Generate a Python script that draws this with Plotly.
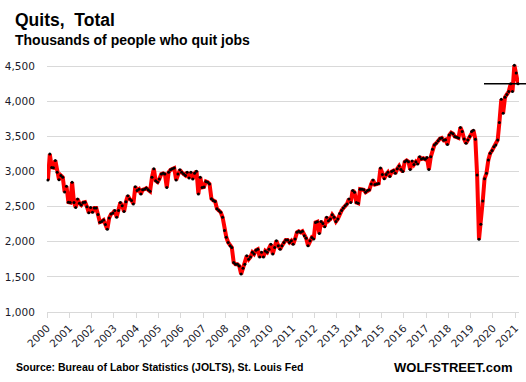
import plotly.graph_objects as go
import pandas as pd

# Monthly quits, thousands (JOLTS), Dec 2000 .. Jan 2022
q2000 = [2880]
q2001 = [3250, 3060, 3055, 3160, 2990, 2885, 2945, 2920, 2710, 2790, 2565, 2560]
q2002 = [2850, 2560, 2490, 2610, 2550, 2525, 2560, 2565, 2500, 2415, 2490, 2420]
q2003 = [2480, 2480, 2390, 2280, 2290, 2310, 2245, 2180, 2340, 2395, 2410, 2445]
q2004 = [2350, 2445, 2560, 2515, 2430, 2570, 2655, 2610, 2590, 2540, 2785, 2730]
q2005 = [2750, 2680, 2740, 2750, 2765, 2740, 2720, 2920, 3040, 2870, 2850, 2895]
q2006 = [2965, 2975, 2965, 2775, 2990, 3025, 3040, 3050, 2880, 2965, 3025, 2990]
q2007 = [2965, 2945, 2990, 2910, 2990, 2895, 2975, 3005, 2680, 2920, 2775, 2780]
q2008 = [2860, 2850, 2825, 2615, 2590, 2575, 2470, 2445, 2420, 2350, 2160, 2065]
q2009 = [1990, 1945, 1920, 1705, 1680, 1680, 1655, 1540, 1625, 1680, 1800, 1750]
q2010 = [1785, 1850, 1825, 1880, 1895, 1785, 1850, 1785, 1870, 1850, 1895, 1965]
q2011 = [1825, 1920, 2015, 1945, 1895, 1945, 1990, 2025, 2025, 1990, 2015, 1965]
q2012 = [2040, 2135, 2150, 2135, 2150, 2085, 2050, 1945, 2015, 2060, 2040, 2275]
q2013 = [2285, 2120, 2290, 2260, 2215, 2350, 2300, 2325, 2385, 2350, 2290, 2325]
q2014 = [2405, 2445, 2480, 2515, 2540, 2610, 2560, 2730, 2705, 2560, 2550, 2750]
q2015 = [2750, 2740, 2705, 2730, 2740, 2825, 2880, 2815, 2825, 2830, 3050, 2960]
q2016 = [2900, 2960, 2990, 2930, 3000, 3015, 2975, 3040, 3080, 3030, 3000, 3140]
q2017 = [3160, 3140, 3030, 3150, 3100, 3140, 3110, 3210, 3180, 3190, 3175, 3200]
q2018 = [3030, 3210, 3320, 3380, 3405, 3440, 3470, 3480, 3445, 3455, 3385, 3520]
q2019 = [3555, 3540, 3500, 3490, 3480, 3630, 3570, 3465, 3405, 3450, 3500, 3570]
q2020 = [3590, 3460, 2950, 2035, 2250, 2580, 2900, 2975, 3165, 3260, 3300, 3355]
q2021 = [3380, 3450, 3700, 4030, 3830, 4060, 4100, 4140, 4250, 4140, 4515, 4405]
q2022 = [4250]

year_lists = [q2000, q2001, q2002, q2003, q2004, q2005, q2006, q2007, q2008,
              q2009, q2010, q2011, q2012, q2013, q2014, q2015, q2016, q2017,
              q2018, q2019, q2020, q2021, q2022]
quits = [v for lst in year_lists for v in lst]
dates = pd.date_range("2000-12-01", periods=len(quits), freq="MS")

tick_years = list(range(2000, 2022))
tick_dates = [pd.Timestamp(f"{y}-11-16") for y in tick_years]
tick_text = [str(y) for y in tick_years]
y_ticks = [1000, 1500, 2000, 2500, 3000, 3500, 4000, 4500]
y_text = [f"{v:,}" for v in y_ticks]

W, H = 526, 382
L, R, T, B = 47, 7, 64, 70
PW, PH = W - L - R, H - T - B

def paper(px, py):
    return (px - L) / PW, (H - B - py) / PH

fig = go.Figure()
fig.add_trace(go.Scatter(
    x=dates, y=quits, mode="lines+markers",
    line=dict(color="#ff0000", width=4),
    marker=dict(color="#000000", size=3),
    cliponaxis=False, hoverinfo="skip"))

tx, ty = paper(13, 20)
sx, sy = paper(13, 40)
fx, fy = paper(14, 367)
wx, wy = paper(514, 367)
annots = [
    dict(text="<b>Quits,\u00a0 Total</b>", x=tx, y=ty, xanchor="left", yanchor="middle",
         font=dict(family="Liberation Sans", size=17.5, color="#000")),
    dict(text="<b>Thousands of people who quit jobs</b>", x=sx, y=sy, xanchor="left", yanchor="middle",
         font=dict(family="Liberation Sans", size=14, color="#000")),
    dict(text="<b>Source: Bureau of Labor Statistics (JOLTS), St. Louis Fed</b>", x=fx, y=fy,
         xanchor="left", yanchor="middle",
         font=dict(family="Liberation Sans", size=10.5, color="#000")),
    dict(text="<b>WOLFSTREET.com</b>", x=wx, y=wy, xanchor="right", yanchor="middle",
         font=dict(family="Liberation Sans", size=13, color="#000")),
]
for a in annots:
    a.update(xref="paper", yref="paper", showarrow=False)

hx0, _ = paper(484, 0)
hx1, _ = paper(526, 0)
fig.add_shape(type="line", xref="paper", yref="y", x0=hx0, x1=hx1,
              y0=quits[-1], y1=quits[-1], line=dict(color="#000", width=1.5))

fig.update_layout(
    width=W, height=H, margin=dict(l=L, r=R, t=T, b=B, autoexpand=False),
    paper_bgcolor="white", plot_bgcolor="white", showlegend=False,
    annotations=annots,
    xaxis=dict(range=[pd.Timestamp("2000-11-16"), pd.Timestamp("2022-01-16")],
               tickmode="array", tickvals=tick_dates, ticktext=tick_text,
               tickangle=-45, ticks="outside", ticklen=5, tickcolor="#d9d9d9",
               showgrid=False, showline=True, linecolor="#d9d9d9", linewidth=1,
               zeroline=False,
               tickfont=dict(family="DejaVu Sans", size=10.5, color="#1a1a2a")),
    yaxis=dict(range=[1000, 4533], tickmode="array", tickvals=y_ticks, ticktext=y_text,
               showgrid=True, gridcolor="#d9d9d9", gridwidth=1, zeroline=False,
               ticks="outside", ticklen=9, tickcolor="rgba(0,0,0,0)",
               tickfont=dict(family="DejaVu Sans", size=10.5, color="#1a1a2a")),
)

fig.write_html("out.html", config={"displayModeBar": False},
               post_script="document.body.style.margin='0';document.body.style.overflow='hidden';")
